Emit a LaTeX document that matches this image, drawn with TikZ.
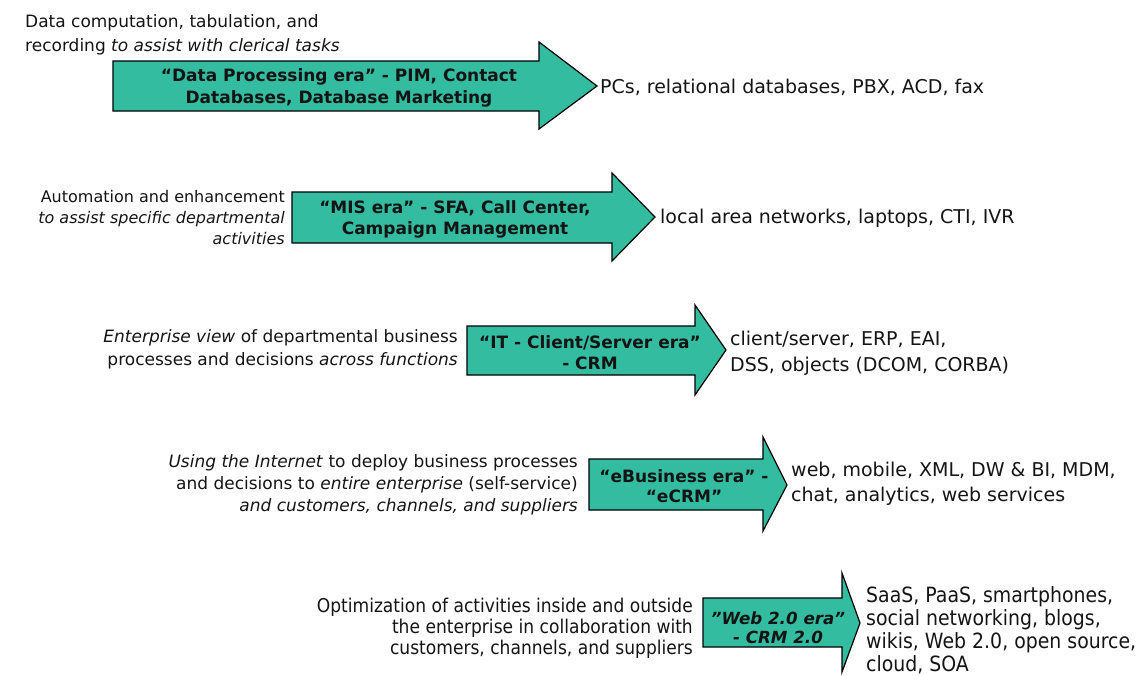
\documentclass[tikz,border=0pt]{standalone}
\usepackage{fontspec}
\setmainfont{DejaVu Sans}
\newfontfamily\narrowfont[FakeStretch=0.9]{DejaVu Sans}
\definecolor{erafill}{RGB}{51,188,160}
\definecolor{ink}{RGB}{20,20,20}
\tikzset{
  erashape/.style={fill=erafill, draw=black, line width=1.2pt, line join=miter},
  eralabel/.style={inner sep=0pt, align=center, text=ink, font=\bfseries\fontsize{17}{22}\selectfont},
  leftnote/.style={inner sep=0pt, text=ink, font=\fontsize{17}{23}\selectfont},
  rightnote/.style={inner sep=0pt, anchor=west, align=left, text=ink, font=\fontsize{19}{26}\selectfont},
}
\begin{document}
\begin{tikzpicture}[x=1pt,y=-1pt]
\useasboundingbox (0,0) rectangle (1143,675);

% era 1: data processing
\draw[erashape] (113,61) -- (539,61) -- (539,42) -- (597,86) -- (539,129) -- (539,111) -- (113,111) -- cycle;
\node[eralabel] (dp) at (339,88) {“Data Processing era” - PIM, Contact\\Databases, Database Marketing};
\node[leftnote, anchor=west, align=left, font=\fontsize{17}{24}\selectfont] (dpnote) at (25,35) {Data computation, tabulation, and\\recording \textit{to assist with clerical tasks}};
\node[rightnote] (dptech) at (600,87) {PCs, relational databases, PBX, ACD, fax};

% era 2: MIS
\draw[erashape] (292,192) -- (612,192) -- (612,173) -- (655,217) -- (612,261) -- (612,243) -- (292,243) -- cycle;
\node[eralabel, font=\bfseries\fontsize{17}{21}\selectfont] (mis) at (455,219) {“MIS era” - SFA, Call Center,\\Campaign Management};
\node[leftnote, anchor=east, align=right, font=\fontsize{16}{21}\selectfont] (misnote) at (285,218) {Automation and enhancement\\\textit{to assist specific departmental}\\\textit{activities}};
\node[rightnote] (mistech) at (660,218) {local area networks, laptops, CTI, IVR};

% era 3: client/server
\draw[erashape] (467,326) -- (695,326) -- (695,305) -- (726,350) -- (695,395) -- (695,375) -- (467,375) -- cycle;
\node[eralabel, font=\bfseries\fontsize{17}{21}\selectfont] (cs) at (590,353) {“IT - Client/Server era”\\- CRM};
\node[leftnote, anchor=east, align=right] (csnote) at (458,349) {\textit{Enterprise view} of departmental business\\processes and decisions \textit{across functions}};
\node[rightnote] (cstech) at (730,353) {client/server, ERP, EAI,\\DSS, objects (DCOM, CORBA)};

% era 4: eBusiness
\draw[erashape] (589,459) -- (763,459) -- (763,437) -- (787,485) -- (763,531) -- (763,510) -- (589,510) -- cycle;
\node[eralabel, font=\bfseries\fontsize{17}{20}\selectfont] (eb) at (684,486) {“eBusiness era” -\\“eCRM”};
\node[leftnote, anchor=east, align=right, font=\fontsize{17}{22}\selectfont] (ebnote) at (578,485) {\textit{Using the Internet} to deploy business processes\\and decisions to \textit{entire enterprise} (self-service)\\\textit{and customers, channels, and suppliers}};
\node[rightnote, font=\fontsize{19}{25}\selectfont] (ebtech) at (791,484) {web, mobile, XML, DW \& BI, MDM,\\chat, analytics, web services};

% era 5: Web 2.0
\draw[erashape] (703,598) -- (842,598) -- (842,573) -- (860,623) -- (842,672) -- (842,647) -- (703,647) -- cycle;
\node[eralabel, font=\bfseries\itshape\fontsize{16.7}{19}\selectfont] (w2) at (778,628) {"Web 2.0 era”\\- CRM 2.0};
\node[leftnote, anchor=east, align=right, font=\narrowfont\fontsize{19}{21}\selectfont] (w2note) at (693,628) {Optimization of activities inside and outside\\the enterprise in collaboration with\\customers, channels, and suppliers};
\node[rightnote, font=\narrowfont\fontsize{21}{23}\selectfont] (w2tech) at (866,630) {SaaS, PaaS, smartphones,\\social networking, blogs,\\wikis, Web 2.0, open source,\\cloud, SOA};
\end{tikzpicture}
\end{document}
